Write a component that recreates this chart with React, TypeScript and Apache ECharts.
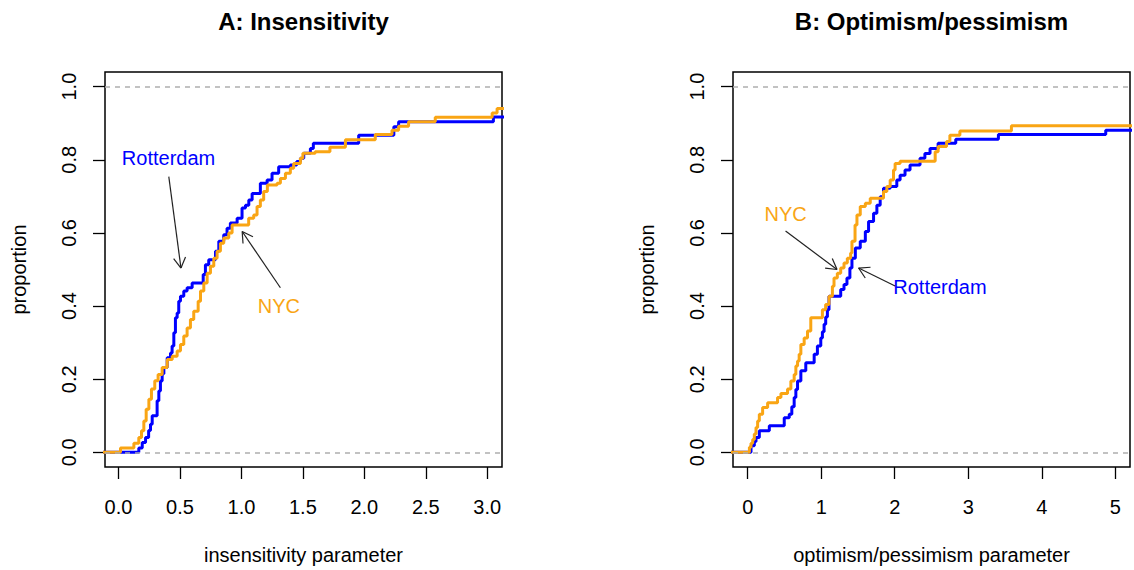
import React, { useEffect, useRef } from 'react';
import * as echarts from 'echarts';

const FONT = '"Liberation Sans", Arial, Helvetica, sans-serif';
const BLUE = '#0000FF';
const ORANGE = '#F9A514';

// Panel A: insensitivity parameter — ECDF step corners [x, proportion]
const insensRotterdam: [number, number][] = [
  [-0.3, 0], [0.165, 0.012], [0.193, 0.027], [0.22, 0.041], [0.245, 0.06], [0.26, 0.077],
  [0.274, 0.1], [0.314, 0.141], [0.328, 0.168], [0.341, 0.195], [0.355, 0.215], [0.369, 0.232],
  [0.396, 0.259], [0.423, 0.272], [0.436, 0.291], [0.45, 0.327], [0.463, 0.368], [0.477, 0.381],
  [0.49, 0.413], [0.504, 0.427], [0.531, 0.441], [0.558, 0.45], [0.599, 0.463], [0.689, 0.486],
  [0.707, 0.513], [0.734, 0.527], [0.789, 0.55], [0.816, 0.577], [0.856, 0.595], [0.883, 0.613],
  [0.91, 0.627], [0.965, 0.64], [1.005, 0.668], [1.033, 0.676], [1.06, 0.69], [1.087, 0.708],
  [1.154, 0.736], [1.209, 0.745], [1.249, 0.763], [1.303, 0.781], [1.398, 0.786], [1.45, 0.795],
  [1.48, 0.804], [1.507, 0.818], [1.561, 0.831], [1.585, 0.845], [1.954, 0.867], [2.24, 0.89],
  [2.279, 0.904], [3.05, 0.917], [3.4, 0.917],
];
const insensNYC: [number, number][] = [
  [-0.3, 0], [0.016, 0.012], [0.125, 0.025], [0.165, 0.041], [0.187, 0.059], [0.206, 0.086],
  [0.225, 0.118], [0.247, 0.145], [0.268, 0.173], [0.295, 0.196], [0.322, 0.213], [0.355, 0.232],
  [0.396, 0.254], [0.437, 0.263], [0.477, 0.277], [0.504, 0.295], [0.531, 0.318], [0.558, 0.34],
  [0.585, 0.363], [0.612, 0.386], [0.648, 0.413], [0.667, 0.441], [0.694, 0.463], [0.721, 0.49],
  [0.748, 0.509], [0.775, 0.531], [0.802, 0.55], [0.829, 0.572], [0.856, 0.586], [0.897, 0.6],
  [0.924, 0.622], [1.059, 0.64], [1.1, 0.649], [1.127, 0.672], [1.154, 0.69], [1.181, 0.713],
  [1.211, 0.731], [1.29, 0.736], [1.317, 0.749], [1.358, 0.763], [1.398, 0.777], [1.425, 0.79],
  [1.48, 0.804], [1.5, 0.818], [1.6, 0.822], [1.72, 0.834], [1.846, 0.855], [2.089, 0.869],
  [2.225, 0.881], [2.279, 0.892], [2.36, 0.904], [2.577, 0.916], [3.04, 0.928], [3.08, 0.94],
  [3.4, 0.94],
];

// Panel B: optimism/pessimism parameter — ECDF step corners [x, proportion]
const optimRotterdam: [number, number][] = [
  [-0.5, 0], [0.045, 0.018], [0.09, 0.03], [0.113, 0.041], [0.158, 0.059], [0.294, 0.073],
  [0.497, 0.095], [0.565, 0.104], [0.6, 0.125], [0.632, 0.15], [0.655, 0.172], [0.678, 0.195],
  [0.723, 0.223], [0.79, 0.245], [0.904, 0.268], [0.948, 0.291], [0.994, 0.313], [1.016, 0.33],
  [1.039, 0.35], [1.061, 0.37], [1.084, 0.39], [1.106, 0.427], [1.265, 0.445], [1.31, 0.459],
  [1.35, 0.477], [1.39, 0.504], [1.418, 0.531], [1.464, 0.559], [1.531, 0.577], [1.6, 0.604],
  [1.644, 0.631], [1.712, 0.654], [1.757, 0.676], [1.802, 0.699], [1.847, 0.722], [1.938, 0.727],
  [2.028, 0.745], [2.073, 0.758], [2.14, 0.772], [2.208, 0.786], [2.344, 0.804], [2.41, 0.817],
  [2.48, 0.831], [2.59, 0.845], [2.83, 0.856], [3.41, 0.869], [4.87, 0.881], [5.6, 0.881],
];
const optimNYC: [number, number][] = [
  [-0.5, 0], [0.023, 0.014], [0.045, 0.025], [0.068, 0.035], [0.09, 0.05], [0.113, 0.068],
  [0.135, 0.086], [0.158, 0.104], [0.203, 0.123], [0.271, 0.136], [0.406, 0.15], [0.452, 0.161],
  [0.542, 0.173], [0.587, 0.195], [0.632, 0.213], [0.655, 0.236], [0.678, 0.25], [0.7, 0.268],
  [0.723, 0.295], [0.768, 0.313], [0.813, 0.332], [0.858, 0.368], [1.016, 0.39], [1.06, 0.404],
  [1.106, 0.427], [1.152, 0.454], [1.174, 0.477], [1.219, 0.49], [1.265, 0.504], [1.31, 0.518],
  [1.355, 0.531], [1.4, 0.545], [1.418, 0.577], [1.46, 0.622], [1.486, 0.649], [1.531, 0.672],
  [1.6, 0.681], [1.667, 0.695], [1.847, 0.713], [1.893, 0.727], [1.938, 0.745], [1.983, 0.772],
  [2.005, 0.79], [2.073, 0.796], [2.55, 0.822], [2.59, 0.836], [2.705, 0.85], [2.75, 0.867],
  [2.886, 0.879], [3.587, 0.893], [5.6, 0.893],
];

const xTicksA = [0, 0.5, 1, 1.5, 2, 2.5, 3];
const xTicksB = [0, 1, 2, 3, 4, 5];
const yTicks = [0, 0.2, 0.4, 0.6, 0.8, 1];
const refLines = [0, 1];
const titles = ['A: Insensitivity', 'B: Optimism/pessimism'];
const xNames = ['insensitivity parameter', 'optimism/pessimism parameter'];

// annotations: text position and arrow (from -> to), in data coordinates
const annotations = [
  { grid: 0, text: 'Rotterdam', color: BLUE, at: [0.407, 0.804], from: [0.409, 0.754], to: [0.508, 0.504] },
  { grid: 0, text: 'NYC', color: ORANGE, at: [1.305, 0.4], from: [1.317, 0.45], to: [1.006, 0.604] },
  { grid: 1, text: 'NYC', color: ORANGE, at: [0.515, 0.651], from: [0.515, 0.605], to: [1.215, 0.5] },
  { grid: 1, text: 'Rotterdam', color: BLUE, at: [2.615, 0.452], from: [2.005, 0.455], to: [1.508, 0.504] },
];

const GRID_LEFTS = [105, 733];
const GRID_CENTERS = [303.5, 931.5];

export default function App() {
  const ref = useRef<HTMLDivElement>(null);
  useEffect(() => {
    if (!ref.current) return;
    const chart = echarts.init(ref.current, null, { renderer: 'svg' });

    const xAxisCfg = (gi: number, min: number, max: number, ticks: number[], dec: number) => ({
      type: 'value', gridIndex: gi, min, max,
      name: xNames[gi], nameLocation: 'middle', nameGap: 78,
      nameTextStyle: { fontSize: 20, color: '#000', fontFamily: FONT },
      axisLine: { show: false, onZero: false },
      splitLine: { show: false },
      axisTick: { show: true, length: 12, customValues: ticks, lineStyle: { color: '#000', width: 1.3 } },
      axisLabel: {
        customValues: ticks, margin: 30, fontSize: 20, color: '#000', fontFamily: FONT,
        formatter: (v: number) => v.toFixed(dec),
      },
    });
    const yAxisCfg = (gi: number) => ({
      type: 'value', gridIndex: gi, min: -0.04, max: 1.04,
      name: 'proportion', nameLocation: 'middle', nameGap: 76, nameRotate: 90,
      nameTextStyle: { fontSize: 20, color: '#000', fontFamily: FONT },
      axisLine: { show: false, onZero: false },
      splitLine: { show: false },
      axisTick: { show: true, length: 12, customValues: yTicks, lineStyle: { color: '#000', width: 1.3 } },
      axisLabel: {
        customValues: yTicks, rotate: 90, margin: 26, fontSize: 20, color: '#000', fontFamily: FONT,
        formatter: (v: number) => v.toFixed(1),
      },
    });
    const refMark = {
      silent: true, symbol: 'none', label: { show: false },
      lineStyle: { type: [5, 5], color: '#AFAFAF', width: 1.5 },
      data: refLines.map((v) => ({ yAxis: v })),
    };
    const stepSeries = (name: string, gi: number, data: [number, number][], color: string, mark: boolean) => ({
      type: 'line', name, xAxisIndex: gi, yAxisIndex: gi, data, step: 'end',
      showSymbol: false, symbol: 'none', clip: true,
      lineStyle: { color, width: 3 }, itemStyle: { color },
      ...(mark ? { markLine: refMark } : {}),
    });

    chart.setOption({
      animation: false,
      textStyle: { fontFamily: FONT },
      title: titles.map((t, i) => ({
        text: t, left: GRID_CENTERS[i], top: 9, textAlign: 'center', padding: 0,
        textStyle: { fontSize: 24, fontWeight: 'bold', color: '#000', fontFamily: FONT },
      })),
      grid: GRID_LEFTS.map((l) => ({
        left: l, top: 72, width: 397, height: 397, show: true,
        borderColor: '#000', borderWidth: 1.5, backgroundColor: 'transparent',
      })),
      xAxis: [xAxisCfg(0, -0.11, 3.12, xTicksA, 1), xAxisCfg(1, -0.2, 5.2, xTicksB, 0)],
      yAxis: [yAxisCfg(0), yAxisCfg(1)],
      series: [
        stepSeries('Rotterdam', 0, insensRotterdam, BLUE, true),
        stepSeries('NYC', 0, insensNYC, ORANGE, false),
        stepSeries('Rotterdam', 1, optimRotterdam, BLUE, true),
        stepSeries('NYC', 1, optimNYC, ORANGE, false),
      ],
    });

    const graphics: any[] = [];
    const HEAD = 12;
    const ANG = Math.PI / 6;
    annotations.forEach((a) => {
      const p = chart.convertToPixel({ gridIndex: a.grid } as any, a.at) as number[];
      const f = chart.convertToPixel({ gridIndex: a.grid } as any, a.from) as number[];
      const t = chart.convertToPixel({ gridIndex: a.grid } as any, a.to) as number[];
      graphics.push({
        type: 'text', x: p[0], y: p[1], z: 10,
        style: { text: a.text, fill: a.color, fontSize: 20, fontFamily: FONT, align: 'center', verticalAlign: 'middle' },
      });
      const stroke = { stroke: '#222', lineWidth: 1.2 };
      graphics.push({ type: 'line', z: 10, shape: { x1: f[0], y1: f[1], x2: t[0], y2: t[1] }, style: stroke });
      const th = Math.atan2(t[1] - f[1], t[0] - f[0]);
      [th + ANG, th - ANG].forEach((ang) => {
        graphics.push({
          type: 'line', z: 10,
          shape: { x1: t[0], y1: t[1], x2: t[0] - HEAD * Math.cos(ang), y2: t[1] - HEAD * Math.sin(ang) },
          style: stroke,
        });
      });
    });
    chart.setOption({ graphic: graphics });

    return () => chart.dispose();
  }, []);

  return (
    <div
      ref={ref}
      style={{ position: 'absolute', left: 0, top: 0, width: 1134, height: 570, background: '#fff' }}
    />
  );
}
